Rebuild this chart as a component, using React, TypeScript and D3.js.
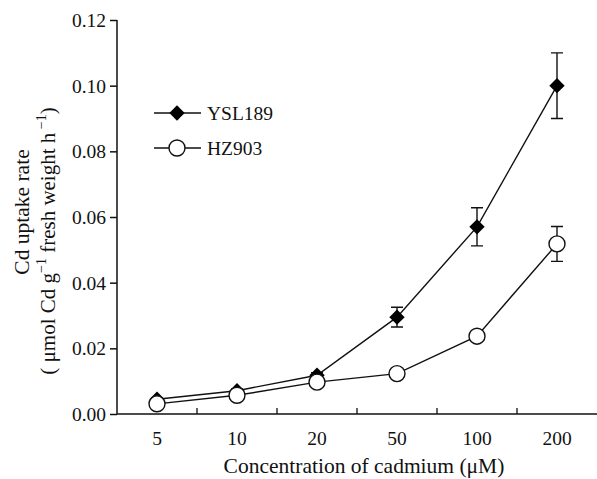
import React, { useEffect, useRef } from 'react'
import * as d3 from 'd3'

// concentrations (uM), shown as equally spaced categories
const concentrations = ['5', '10', '20', '50', '100', '200']
const yTicks = [0, 0.02, 0.04, 0.06, 0.08, 0.1, 0.12]

const ysl189 = [0.0045, 0.0071, 0.0118, 0.0295, 0.057, 0.1]
const ysl189Err = [0.0005, 0.0005, 0.0008, 0.003, 0.0058, 0.01]
const hz903 = [0.0031, 0.0057, 0.0097, 0.0123, 0.0237, 0.0518]
const hz903Err = [0.0003, 0.0003, 0.0005, 0.0008, 0.0015, 0.0053]

const W = 597
const H = 479
const FONT = '"Liberation Serif", "DejaVu Serif", serif'

export default function App() {
  const ref = useRef<SVGSVGElement>(null)

  useEffect(() => {
    const svg = d3.select(ref.current)
    svg.selectAll('*').remove()

    const left = 117, right = 597, top = 20, bottom = 414

    const x = d3.scaleBand<string>().domain(concentrations).range([left, right]).padding(0)
    const y = d3.scaleLinear().domain([0, 0.12]).range([bottom, top])
    const cx = (c: string) => (x(c) as number) + x.bandwidth() / 2

    // y axis
    const yAxis = svg.append('g')
      .attr('transform', `translate(${left},0)`)
      .call(d3.axisLeft(y).tickValues(yTicks).tickFormat(d3.format('.2f')).tickSize(7).tickPadding(4))
    yAxis.select('.domain').attr('d', `M0,${top}V${bottom}`)
    yAxis.selectAll('line, path').attr('stroke', '#111').attr('stroke-width', 1.5)
    yAxis.selectAll('text').attr('font-family', FONT).attr('font-size', 19.5).attr('fill', '#111')
      .attr('dy', '0.34em')

    // x axis: labels under categories, ticks inside at band edges
    const xAxis = svg.append('g').attr('transform', `translate(0,${bottom})`)
    xAxis.append('line').attr('x1', left).attr('x2', right).attr('stroke', '#111').attr('stroke-width', 1.5)
    xAxis.selectAll('.tk')
      .data(concentrations.slice(1))
      .enter().append('line')
      .attr('x1', d => x(d) as number).attr('x2', d => x(d) as number)
      .attr('y1', 0).attr('y2', -6)
      .attr('stroke', '#111').attr('stroke-width', 1.3)
    xAxis.selectAll('.lbl')
      .data(concentrations)
      .enter().append('text')
      .attr('x', d => cx(d)).attr('y', 31)
      .attr('text-anchor', 'middle')
      .attr('font-family', FONT).attr('font-size', 19.5).attr('fill', '#111')
      .text(d => d)

    svg.append('text')
      .attr('x', 364).attr('y', 473)
      .attr('text-anchor', 'middle')
      .attr('font-family', FONT).attr('font-size', 21.5).attr('fill', '#111')
      .text('Concentration of cadmium (μM)')

    // y title
    svg.append('text')
      .attr('transform', 'translate(29,212) rotate(-90)')
      .attr('text-anchor', 'middle')
      .attr('font-family', FONT).attr('font-size', 21.5).attr('fill', '#111')
      .text('Cd uptake rate')
    const t2 = svg.append('text')
      .attr('transform', 'translate(55,241) rotate(-90)')
      .attr('text-anchor', 'middle')
      .attr('font-family', FONT).attr('font-size', 21).attr('fill', '#111')
    t2.append('tspan').text('( μmol Cd g')
    t2.append('tspan').attr('dy', -9).attr('font-size', 14).text('−1')
    t2.append('tspan').attr('dy', 9).text(' fresh weight h')
    t2.append('tspan').attr('dy', -9).attr('font-size', 14).text(' −1')
    t2.append('tspan').attr('dy', 9).text(')')

    const lineGen = d3.line<number>()
      .x((_, i) => cx(concentrations[i]))
      .y(d => y(d))

    const diamond = d3.symbol().type(d3.symbolDiamond2).size(150)

    const series = [
      { name: 'YSL189', values: ysl189, err: ysl189Err, marker: 'diamond' },
      { name: 'HZ903', values: hz903, err: hz903Err, marker: 'circle' },
    ]

    series.forEach(s => {
      svg.append('path')
        .datum(s.values)
        .attr('d', lineGen)
        .attr('fill', 'none').attr('stroke', '#111').attr('stroke-width', 1.4)
    })

    series.forEach(s => {
      const g = svg.append('g')
      s.values.forEach((v, i) => {
        const px = cx(concentrations[i])
        const e = s.err[i]
        g.append('path')
          .attr('d', `M${px},${y(v + e)}V${y(v - e)}M${px - 6},${y(v + e)}H${px + 6}M${px - 6},${y(v - e)}H${px + 6}`)
          .attr('fill', 'none').attr('stroke', '#111').attr('stroke-width', 1.4)
      })
      s.values.forEach((v, i) => {
        const px = cx(concentrations[i])
        if (s.marker === 'diamond') {
          g.append('path').attr('d', diamond() as string)
            .attr('transform', `translate(${px},${y(v)})`)
            .attr('fill', '#000')
        } else {
          g.append('circle').attr('cx', px).attr('cy', y(v)).attr('r', 8)
            .attr('fill', '#fff').attr('stroke', '#111').attr('stroke-width', 1.4)
        }
      })
    })

    // legend
    const leg = svg.append('g')
    series.forEach((s, i) => {
      const ly = 113 + i * 35
      leg.append('line').attr('x1', 154).attr('x2', 201).attr('y1', ly).attr('y2', ly)
        .attr('stroke', '#111').attr('stroke-width', 1.4)
      if (s.marker === 'diamond') {
        leg.append('path').attr('d', diamond() as string)
          .attr('transform', `translate(177,${ly})`).attr('fill', '#000')
      } else {
        leg.append('circle').attr('cx', 177).attr('cy', ly).attr('r', 8)
          .attr('fill', '#fff').attr('stroke', '#111').attr('stroke-width', 1.4)
      }
      leg.append('text')
        .attr('x', 207).attr('y', ly).attr('dy', '0.35em')
        .attr('font-family', FONT).attr('font-size', 19.5).attr('fill', '#111')
        .text(s.name)
    })
  }, [])

  return (
    <svg ref={ref} width={W} height={H}
      style={{ position: 'absolute', left: 0, top: 0, background: '#fff' }} />
  )
}
